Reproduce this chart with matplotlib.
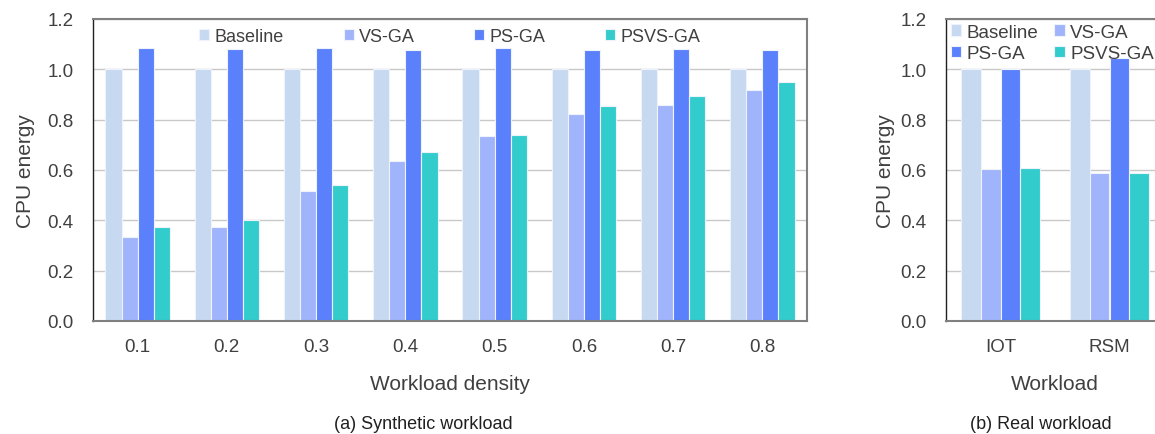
import matplotlib
matplotlib.use("Agg")
import matplotlib.pyplot as plt
import numpy as np

plt.rcParams['font.family'] = ['Liberation Sans', 'DejaVu Sans']

series = ["Baseline", "VS-GA", "PS-GA", "PSVS-GA"]
colors = ["#c6d9f1", "#a0b4fc", "#5a80fc", "#33cccc"]

densities = ["0.1", "0.2", "0.3", "0.4", "0.5", "0.6", "0.7", "0.8"]
syn_baseline = [1.0, 1.0, 1.0, 1.0, 1.0, 1.0, 1.0, 1.0]
syn_vsga = [0.335, 0.375, 0.515, 0.635, 0.735, 0.822, 0.860, 0.918]
syn_psga = [1.083, 1.082, 1.085, 1.078, 1.085, 1.075, 1.080, 1.077]
syn_psvsga = [0.375, 0.403, 0.540, 0.672, 0.740, 0.853, 0.895, 0.950]

workloads = ["IOT", "RSM"]
real_baseline = [1.0, 1.0]
real_vsga = [0.603, 0.590]
real_psga = [1.003, 1.045]
real_psvsga = [0.607, 0.590]

W, H = 1155, 435
fig = plt.figure(figsize=(W / 100, H / 100), dpi=100)

txt = "#404040"


def px(x0, y0, x1, y1):
    return [x0 / W, 1 - y1 / H, (x1 - x0) / W, (y1 - y0) / H]


def style(ax, ylabelpad):
    ax.set_ylim(0, 1.2)
    ax.set_yticks(np.arange(0, 1.21, 0.2))
    ax.set_yticklabels([f"{v:.1f}" for v in np.arange(0, 1.21, 0.2)])
    ax.yaxis.grid(True, color="#c8c8c8", linewidth=1.0)
    ax.set_axisbelow(True)
    ax.tick_params(axis='both', length=0, labelsize=13.5, colors=txt)
    ax.tick_params(axis='y', pad=14)
    ax.tick_params(axis='x', pad=12)
    ax.spines['left'].set_color("#202020")
    ax.spines['left'].set_linewidth(1.0)
    ax.spines['bottom'].set_color("#808080")
    ax.spines['bottom'].set_linewidth(1.5)
    ax.spines['top'].set_color("#808080")
    ax.spines['top'].set_linewidth(1.5)
    ax.spines['right'].set_color("#808080")
    ax.spines['right'].set_linewidth(1.5)
    ax.set_ylabel("CPU energy", fontsize=15, color=txt, labelpad=ylabelpad)


def bars(ax, cats, data, bw):
    x = np.arange(len(cats))
    handles = []
    for i, (name, vals, c) in enumerate(zip(series, data, colors)):
        h = ax.bar(x + (i - 1.5) * bw, vals, bw, color=c, edgecolor="#eef2fb",
                   linewidth=0.8, label=name)
        handles.append(h)
    ax.set_xticks(x)
    ax.set_xticklabels(cats)
    ax.set_xlim(-0.5, len(cats) - 0.5)
    return handles


# (a) synthetic
ax1 = fig.add_axes(px(93, 20, 807, 322))
style(ax1, 9)
bars(ax1, densities, [syn_baseline, syn_vsga, syn_psga, syn_psvsga], 0.18)
ax1.set_xlabel("Workload density", fontsize=15, color=txt, labelpad=14)
leg1 = ax1.legend(loc="upper center", bbox_to_anchor=(0.5, 1.0), ncol=4,
                  frameon=False, fontsize=13, handlelength=0.55,
                  handleheight=0.55, handletextpad=0.3, columnspacing=3.3,
                  borderaxespad=0.1)
for t in leg1.get_texts():
    t.set_color(txt)

# (b) real
ax2 = fig.add_axes(px(946, 20, 1164, 322))
style(ax2, 4)
hs = bars(ax2, workloads, [real_baseline, real_vsga, real_psga, real_psvsga], 0.18)
ax2.set_xlabel("Workload", fontsize=15, color=txt, labelpad=14)
order = [0, 2, 1, 3]
leg2 = ax2.legend([hs[i] for i in order], [series[i] for i in order],
                  loc="upper left", ncol=2, frameon=False, fontsize=13.5,
                  handlelength=0.55, handleheight=0.55, handletextpad=0.3,
                  columnspacing=0.85, borderaxespad=0.1, labelspacing=0.25,
                  borderpad=0.15)
for t in leg2.get_texts():
    t.set_color(txt)

fig.text(423 / W, 1 - 425 / H, "(a) Synthetic workload", ha="center",
         va="center", fontsize=13, color="#202020")
fig.text(1041 / W, 1 - 425 / H, "(b) Real workload", ha="center",
         va="center", fontsize=13, color="#202020")

fig.savefig("out.png", dpi=100)
